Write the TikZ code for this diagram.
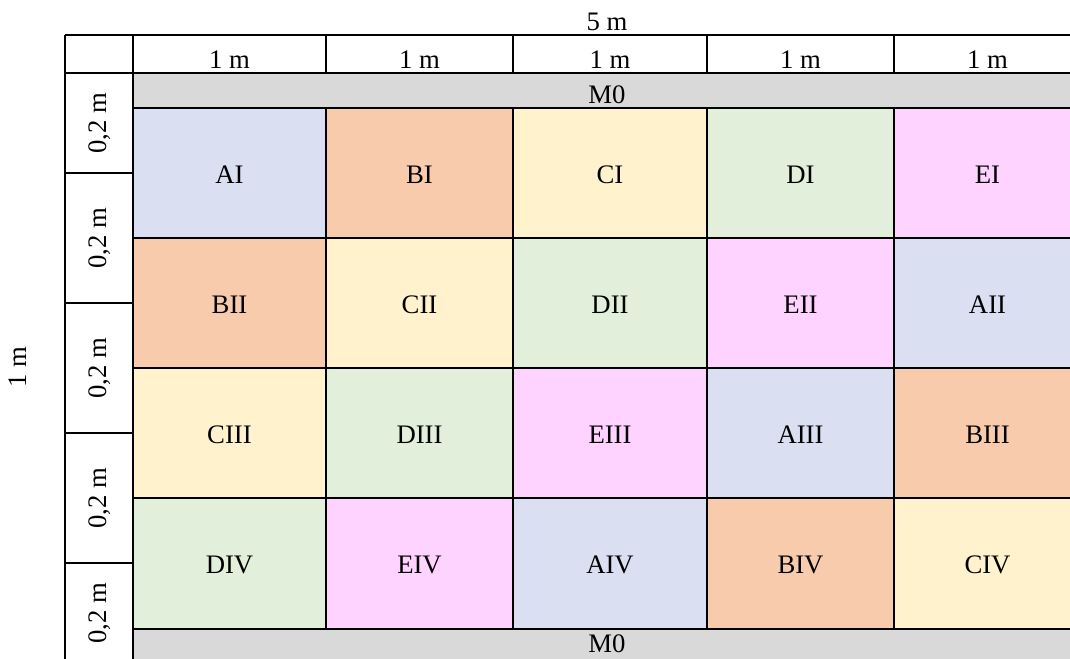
\documentclass[tikz,border=0pt]{standalone}
\usepackage{fontspec}
\setmainfont{Liberation Serif}
\usepackage{xcolor}
\usetikzlibrary{positioning}

\definecolor{colA}{HTML}{DAE0F2}
\definecolor{colB}{HTML}{F8CBAD}
\definecolor{colC}{HTML}{FFF2CC}
\definecolor{colD}{HTML}{E2EFDA}
\definecolor{colE}{HTML}{FFD3FF}
\definecolor{stripgray}{HTML}{D9D9D9}

\begin{document}
\begin{tikzpicture}[x=0.025cm,y=-0.025cm,
    every node/.style={font=\fontsize{19}{23}\selectfont,inner sep=0pt},
    rule/.style={line width=1.1pt}]
  \clip (0,0) rectangle (1070,658);

  % overall sizes
  \node (total) at (607,22) {5 m};
  \node[rotate=90] (side) at (18,367) {1 m};

  % plots, one row at a time
  \foreach \xa/\xb/\lt in {133/326/A,326/513/B,513/707/C,707/894/D,894/1081/E}{
    \fill[col\lt] (\xa,108) rectangle (\xb,238);
    \node (\lt I) at ({(\xa+\xb)/2},175) {\lt I};
  }
  \foreach \xa/\xb/\lt in {133/326/B,326/513/C,513/707/D,707/894/E,894/1081/A}{
    \fill[col\lt] (\xa,238) rectangle (\xb,368);
    \node (\lt II) at ({(\xa+\xb)/2},305) {\lt II};
  }
  \foreach \xa/\xb/\lt in {133/326/C,326/513/D,513/707/E,707/894/A,894/1081/B}{
    \fill[col\lt] (\xa,368) rectangle (\xb,498);
    \node (\lt III) at ({(\xa+\xb)/2},435) {\lt III};
  }
  \foreach \xa/\xb/\lt in {133/326/D,326/513/E,513/707/A,707/894/B,894/1081/C}{
    \fill[col\lt] (\xa,498) rectangle (\xb,629);
    \node (\lt IV) at ({(\xa+\xb)/2},565) {\lt IV};
  }

  % border strips
  \fill[stripgray] (133,73) rectangle (1081,108);
  \fill[stripgray] (133,629) rectangle (1081,664);
  \node (topM) at (607,95) {M0};
  \node (botM) at (607,644) {M0};

  % column widths
  \foreach \xa/\xb [count=\i] in {133/326,326/513,513/707,707/894,894/1081}
    \node (w\i) at ({(\xa+\xb)/2},60) {1 m};

  % row heights
  \foreach \ya/\yb [count=\i] in {73/173,173/303,303/433,433/563,563/663}
    \node[rotate=90] (h\i) at (100,{(\ya+\yb)/2}) {0,2 m};

  % table rules
  \draw[rule] (65,35) -- (1081,35);
  \draw[rule] (65,73) -- (1081,73);
  \foreach \y in {108,238,368,498,629}
    \draw[rule] (133,\y) -- (1081,\y);
  \foreach \y in {173,303,433,563}
    \draw[rule] (65,\y) -- (133,\y);
  \draw[rule] (65,35) -- (65,664);
  \draw[rule] (133,35) -- (133,664);
  \foreach \x in {326,513,707,894}{
    \draw[rule] (\x,35) -- (\x,73);
    \draw[rule] (\x,108) -- (\x,629);
  }
\end{tikzpicture}
\end{document}
